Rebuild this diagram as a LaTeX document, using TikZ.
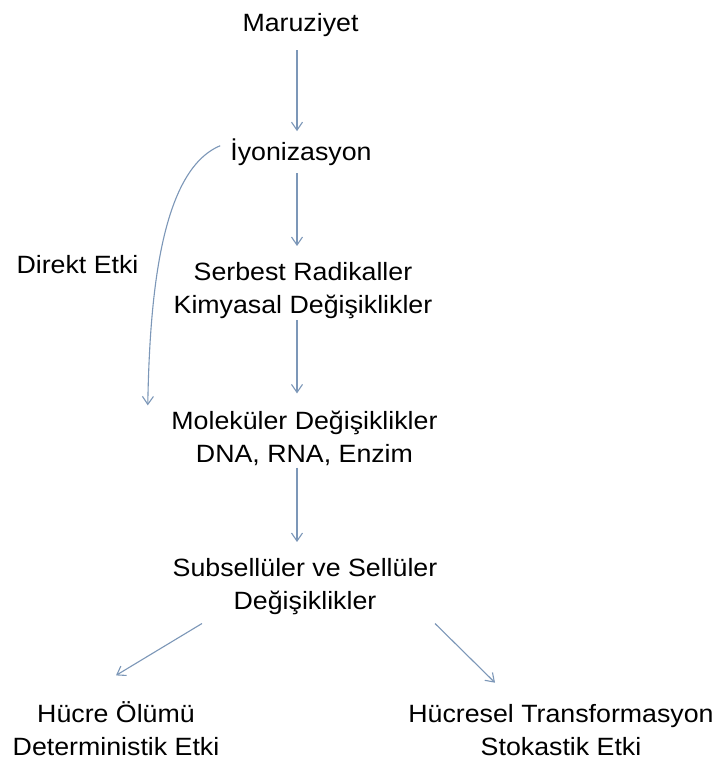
\documentclass[tikz,border=0pt]{standalone}
\usepackage{fontspec}
\setmainfont{Liberation Sans}[FakeStretch=1.07]
\usetikzlibrary{arrows.meta}
\definecolor{arrowblue}{HTML}{7C97B8}

\begin{document}
\begin{tikzpicture}[x=1pt,y=-1pt,
	every node/.style={font=\fontsize{25}{33}\selectfont,inner sep=0pt,align=center,anchor=base},
	arr/.style={draw=arrowblue,line width=1.1pt,-{Straight Barb[length=8pt,width=11pt]}}]
	\useasboundingbox[fill=white] (0,0) rectangle (719,763);
	\coordinate (col) at (297,0);
	\node (maruz) at (300.5,31) {Maruziyet};
	\node (iyon) at (301,160) {İyonizasyon};
	\node (serbest) at (303,313) {Serbest Radikaller\\Kimyasal Değişiklikler};
	\node (molek) at (304.5,462) {Moleküler Değişiklikler\\DNA, RNA, Enzim};
	\node (subs) at (305,609) {Subsellüler ve Sellüler\\Değişiklikler};
	\node (hucre) at (116,755) {Hücre Ölümü\\Deterministik Etki};
	\node (transf) at (561,755) {Hücresel Transformasyon\\Stokastik Etki};
	\node (direkt) at (77.5,273) {Direkt Etki};
	% ana zincir
	\draw[arr,shorten <=13.7pt,shorten >=7pt] (maruz.south -| col) -- (iyon.north -| col);
	\draw[arr,shorten <=7.7pt,shorten >=15.7pt] (iyon.south -| col) -- (serbest.north -| col);
	\draw[arr,shorten <=1.7pt,shorten >=17pt] (serbest.south -| col) -- (molek.north -| col);
	\draw[arr,shorten <=2.3pt,shorten >=15.7pt] (molek.south -| col) -- (subs.north -| col);
	% direkt etki
	\draw[arr] ([shift={(-10,-6)}]iyon.west) .. controls +(-60,25) and +(2,-107) .. ([shift={(-23.5,-5)}]molek.north west);
	% dallanma
	\draw[arr] ([shift={(-103,9)}]subs.south) -- ([shift={(0,-25.5)}]hucre.north);
	\draw[arr] ([shift={(130,9)}]subs.south) -- ([shift={(-66,-21)}]transf.north);
\end{tikzpicture}
\end{document}
